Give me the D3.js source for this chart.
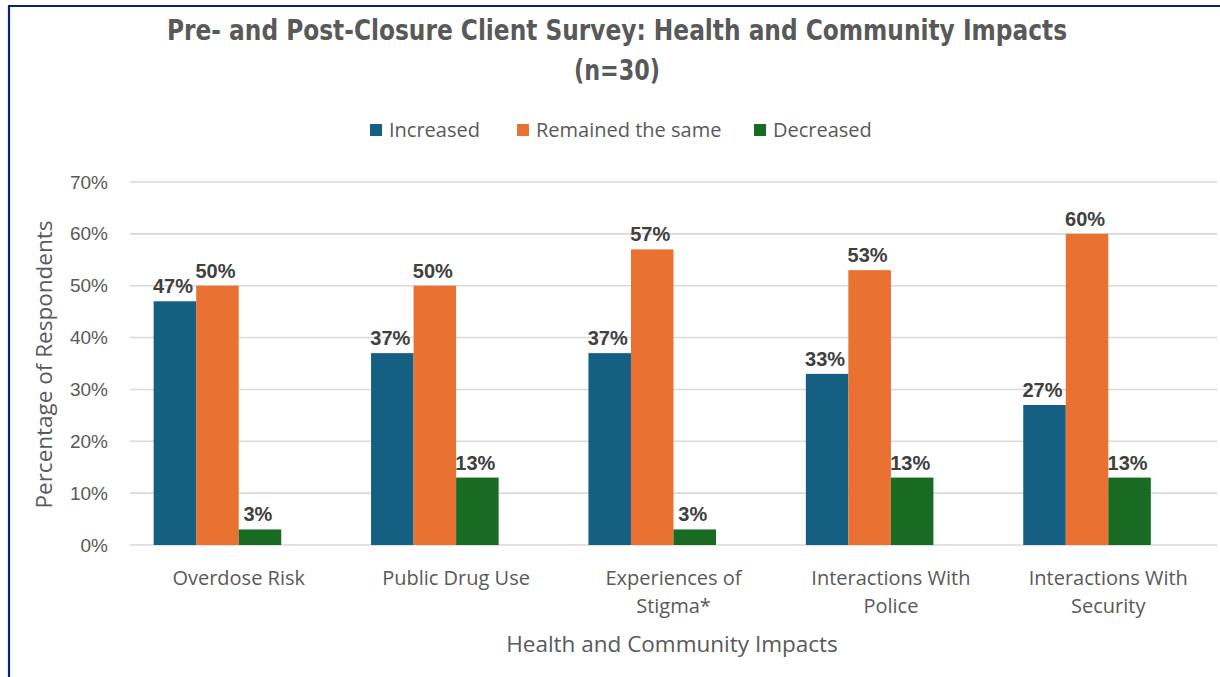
<!DOCTYPE html>
<html>
<head>
<meta charset="utf-8">
<script src="https://cdn.jsdelivr.net/npm/d3@7"></script>
<style>
  html, body { margin: 0; padding: 0; background: #fff; }
  svg { display: block; }
</style>
</head>
<body>
<svg id="frame"></svg>
<script>
const categories = [
  ["Overdose Risk"],
  ["Public Drug Use"],
  ["Experiences of", "Stigma*"],
  ["Interactions With", "Police"],
  ["Interactions With", "Security"]
];
const seriesNames = ["Increased", "Remained the same", "Decreased"];
const increased = [47, 37, 37, 33, 27];
const remained = [50, 50, 57, 53, 60];
const decreased = [3, 13, 3, 13, 13];
const yTicks = [0, 10, 20, 30, 40, 50, 60, 70];
const colors = ["#156082", "#e97132", "#196b24"];

const width = 1220;
const height = 677;
const margin = {left: 130, right: 3, top: 182, bottom: 132};

const svg = d3.select('#frame')
  .attr('width', width)
  .attr('height', height);

// outer frame (top + left edge visible)
svg.append('line').attr('x1', 8).attr('x2', width).attr('y1', 6).attr('y2', 6)
  .attr('stroke', '#0b2566').attr('stroke-width', 2.2);
svg.append('line').attr('x1', 9).attr('x2', 9).attr('y1', 5).attr('y2', height)
  .attr('stroke', '#0b2566').attr('stroke-width', 2.2);

const catKeys = categories.map(c => c.join(' '));
const values = [increased, remained, decreased];
const rows = catKeys.map((k, i) => ({
  key: k,
  lines: categories[i],
  vals: seriesNames.map((s, j) => ({series: s, idx: j, v: values[j][i]}))
}));

const x0 = d3.scaleBand()
  .domain(catKeys)
  .range([margin.left, width - margin.right])
  .paddingInner(0)
  .paddingOuter(0);

// 4 slots per group: the source chart leaves room for an empty fourth series
const x1 = d3.scaleBand()
  .domain([0, 1, 2, 3])
  .range([0, x0.bandwidth()])
  .paddingInner(0)
  .paddingOuter(0.556);

const y = d3.scaleLinear()
  .domain([0, 70])
  .range([height - margin.bottom, margin.top]);

const labelFont = '"Open Sans", Lato, sans-serif';

// gridlines
svg.append('g').selectAll('line').data(yTicks).enter()
  .append('line')
  .attr('x1', margin.left)
  .attr('x2', width - margin.right)
  .attr('y1', d => y(d))
  .attr('y2', d => y(d))
  .attr('stroke', '#d9d9d9')
  .attr('stroke-width', 1.6);

// y axis labels
const yaxis = d3.axisLeft(y).tickValues(yTicks).tickFormat(d => d + '%').tickSize(0).tickPadding(22);
const gy = svg.append('g').attr('transform', `translate(${margin.left},0)`).call(yaxis);
gy.select('.domain').remove();
gy.selectAll('text')
  .attr('fill', '#595959')
  .style('font-family', '"Liberation Sans", Arial, sans-serif')
  .style('font-size', '19px');

// bars
const groups = svg.append('g').selectAll('g').data(rows).enter()
  .append('g')
  .attr('transform', d => `translate(${x0(d.key)},0)`);

groups.selectAll('rect').data(d => d.vals).enter()
  .append('rect')
  .attr('x', d => x1(d.idx))
  .attr('y', d => y(d.v))
  .attr('width', x1.bandwidth())
  .attr('height', d => y(0) - y(d.v))
  .attr('fill', d => colors[d.idx]);

groups.selectAll('.MyText').data(d => d.vals).enter()
  .append('text')
  .attr('class', 'MyText')
  .attr('x', d => x1(d.idx) + x1.bandwidth() / 2 - 2)
  .attr('y', d => y(d.v) - 8)
  .attr('text-anchor', 'middle')
  .attr('fill', '#404040')
  .style('font-family', '"Liberation Sans", Arial, sans-serif')
  .style('font-weight', 'bold')
  .style('font-size', '20px')
  .text(d => d.v + '%');

// x category labels
const xl = svg.append('g').selectAll('text').data(rows).enter()
  .append('text')
  .attr('x', d => x0(d.key) + x0.bandwidth() / 2)
  .attr('y', 585)
  .attr('text-anchor', 'middle')
  .attr('fill', '#595959')
  .style('font-family', labelFont)
  .style('font-size', '20px');
xl.selectAll('tspan').data(d => d.lines).enter()
  .append('tspan')
  .attr('x', function() { return d3.select(this.parentNode).attr('x'); })
  .attr('dy', (d, i) => i === 0 ? 0 : 28)
  .text(d => d);

// axis titles
svg.append('text')
  .attr('x', 672)
  .attr('y', 652)
  .attr('text-anchor', 'middle')
  .attr('fill', '#595959')
  .style('font-family', labelFont)
  .style('font-size', '22.5px')
  .text('Health and Community Impacts');

svg.append('text')
  .attr('transform', `translate(52,${(y(0) + y(70)) / 2 + 1}) rotate(-90)`)
  .attr('text-anchor', 'middle')
  .attr('fill', '#595959')
  .style('font-family', labelFont)
  .style('font-size', '22.5px')
  .text('Percentage of Respondents');

// title
const title = svg.append('text')
  .attr('text-anchor', 'middle')
  .attr('fill', '#595959')
  .style('font-family', '"Liberation Sans Narrow", "DejaVu Sans Condensed", sans-serif')
  .style('font-weight', 'bold')
  .style('font-size', '28px');
title.append('tspan').attr('x', 617).attr('y', 40)
  .attr('textLength', 900).attr('lengthAdjust', 'spacingAndGlyphs')
  .text('Pre- and Post-Closure Client Survey: Health and Community Impacts');
title.append('tspan').attr('x', 617).attr('y', 80)
  .attr('textLength', 86).attr('lengthAdjust', 'spacingAndGlyphs')
  .text('(n=30)');

// legend
const legendX = [370, 517, 754];
const legend = svg.append('g').selectAll('g').data(seriesNames).enter()
  .append('g')
  .attr('transform', (d, i) => `translate(${legendX[i]},124)`);
legend.append('rect').attr('width', 12).attr('height', 12).attr('fill', (d, i) => colors[i]);
legend.append('text')
  .attr('x', 19)
  .attr('y', 12.5)
  .attr('fill', '#595959')
  .style('font-family', labelFont)
  .style('font-size', '20px')
  .text(d => d);
</script>
</body>
</html>
